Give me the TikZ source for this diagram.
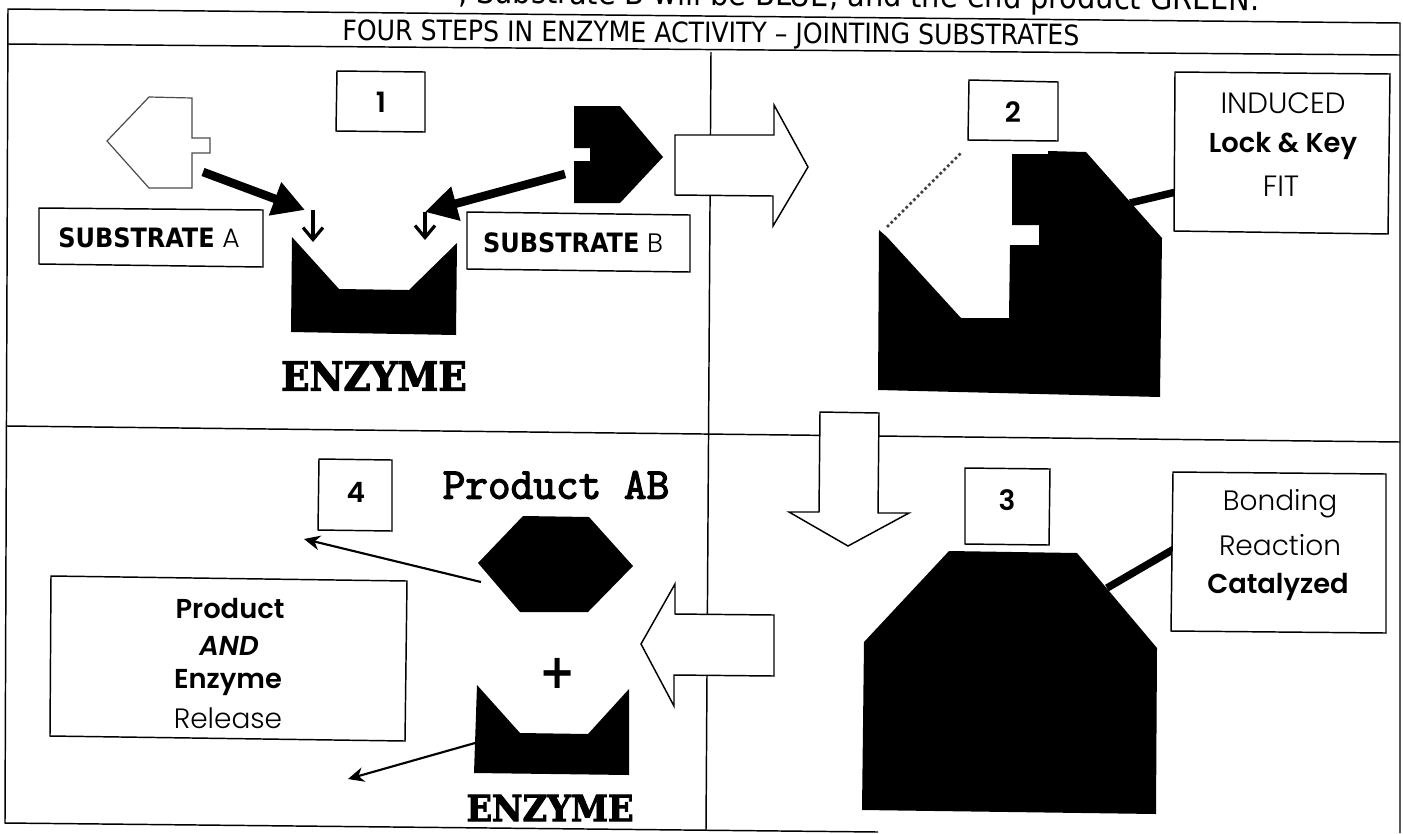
\documentclass[tikz,border=0pt]{standalone}
\usepackage{fontspec}
\usetikzlibrary{arrows.meta}
\setmainfont{DejaVu Sans Condensed}
\newfontfamily\goth{Poppins Light}
\newfontfamily\gothb{Poppins SemiBold}
\newfontfamily\gothbi{Poppins SemiBold Italic}
\newfontfamily\slab[FakeStretch=0.93,FakeBold=2.6]{DejaVu Serif Bold}
\newfontfamily\cour[FakeBold=3]{Latin Modern Mono}
\newcommand{\fs}[1]{\fontsize{#1}{#1}\selectfont}
\tikzset{
  x=0.75pt,y=-0.75pt,
  rule/.style={line width=1.1pt,black},
  boxline/.style={line width=1.1pt,black,fill=white},
  fat/.style={line width=6.4pt,black,-{Triangle[length=24pt,width=25pt]}},
  thinarrow/.style={line width=1.6pt,black,-{Stealth[length=12pt,width=11pt]}},
  small/.style={line width=2.4pt,black,-{Straight Barb[length=9pt,width=15pt,line width=2.4pt]}},
  leader/.style={line width=5.6pt,black},
  txt/.style={inner sep=0pt,outer sep=0pt,align=center,black},
  num/.style={txt,font=\gothb\fs{21}},
  sub/.style={txt,font=\fs{20}},
  lab/.style={txt,font=\goth\fs{21}},
  labb/.style={txt,font=\gothb\fs{20.5}},
  slabel/.style={txt,font=\slab\fs{30}},
}
\begin{document}
\begin{tikzpicture}
\useasboundingbox (0,0) rectangle (1403,833);
\fill[white] (0,0) rectangle (1403,833);
% clipped line of text at the top
\begin{scope}
\clip (0,0) rectangle (1403,833);
\node[txt,anchor=base west,rotate=-0.53,font=\fs{24}] (cut) at (458,3) {, Substrate B will be BLUE, and the end product GREEN.};
\end{scope}
% table rules
\coordinate (tl) at (8,9); \coordinate (tr) at (1400,23);
\coordinate (hl) at (8,44); \coordinate (hr) at (1400,55);
\coordinate (ml) at (7,426); \coordinate (mr) at (1400,442);
\coordinate (bl) at (5,823); \coordinate (bm) at (878,832); \coordinate (br) at (1400,833);
\coordinate (vt) at (711,52); \coordinate (vb) at (706,830);
\draw[rule] (bm) -- (bl) -- (tl) -- (tr) -- (br);
\draw[rule] (hl) -- (hr);
\draw[rule] (ml) -- (mr);
\draw[rule] (vt) -- (vb);
\node[txt,rotate=-0.4,font=\fs{21}] (title) at (711,35) {FOUR STEPS IN ENZYME ACTIVITY -- JOINTING SUBSTRATES};
% step arrows
\draw[boxline] (675,135) -- (774,135) -- (774,105) -- (808,167) -- (773,226) -- (773,196) -- (675,195) -- cycle;
\draw[boxline] (820,412) -- (879,413) -- (878,513) -- (909,513) -- (848,546) -- (789,512) -- (819,512) -- cycle;
\draw[boxline] (774,615) -- (774,676) -- (674,675) -- (674,706) -- (641,644) -- (675,584) -- (675,614) -- cycle;
% panel 1
\draw[line width=0.9pt,black!70,fill=white] (149,97) -- (192,98) -- (192,138) -- (210,138) -- (210,153) -- (192,153) -- (192,188) -- (149,188) -- (107,141) -- cycle;
\fill[black] (574,106) -- (620,106) -- (663,157) -- (620,203) -- (574,203) -- (574,161) -- (590,161) -- (590,148) -- (574,148) -- cycle;
\fill[black] (292,237) -- (339,289) -- (409,290) -- (457,243) -- (456,335) -- (291,332) -- cycle;
\draw[boxline] (337,71) -- (425,72) -- (425,132) -- (336,131) -- cycle;
\node[num] (n1) at (381,102) {1};
\draw[boxline] (39,208) -- (263,210) -- (263,267) -- (39,264) -- cycle;
\node[sub] (sa) at (149,238) {\textbf{SUBSTRATE} {\goth A}};
\draw[boxline] (467,212) -- (690,215) -- (690,272) -- (467,269) -- cycle;
\node[sub] (sb) at (573,243) {\textbf{SUBSTRATE} {\goth B}};
\coordinate (a1) at (203,172); \coordinate (a2) at (305,210);
\coordinate (c1) at (565,174); \coordinate (c2) at (425,212);
\draw[fat] (a1) -- (a2);
\draw[fat] (c1) -- (c2);
\coordinate (d1) at (313,210); \coordinate (d2) at (313,242);
\coordinate (e1) at (425,212); \coordinate (e2) at (425,240);
\draw[small] (d1) -- (d2);
\draw[small] (e1) -- (e2);
\node[slabel] (enz1) at (374,376) {ENZYME};
% panel 2
\fill[black] (879,230) -- (878,390) -- (1160,397) -- (1162,238) -- (1086,152) -- (1048,151) -- (1048,154) -- (1012,154) -- (1012,225) -- (1039,225) -- (1039,245) -- (1010,245) -- (1009,318) -- (961,318) -- (887,237) -- cycle;
\coordinate (s1) at (887,227); \coordinate (s2) at (961,153);
\draw[line width=2pt,black!75,dotted] (s1) -- (s2);
\draw[boxline] (969,80) -- (1058,82) -- (1058,141) -- (968,140) -- cycle;
\node[num] (n2) at (1013,112) {2};
\coordinate (k1) at (1130,203); \coordinate (k2) at (1176,192);
\draw[leader] (k1) -- (k2);
\draw[boxline] (1175,72) -- (1390,74) -- (1388,234) -- (1174,231) -- cycle;
\node[lab,font=\goth\fs{22}] (t21) at (1283,103) {INDUCED};
\node[labb] (t22) at (1283,146) {Lock \& Key};
\node[lab,font=\goth\fs{22}] (t23) at (1281,186) {FIT};
% panel 3
\fill[black] (949,551) -- (1077,553) -- (1157,648) -- (1156,814) -- (862,810) -- (864,642) -- cycle;
\draw[boxline] (965,468) -- (1050,469) -- (1049,545) -- (965,544) -- cycle;
\node[num] (n3) at (1007,500) {3};
\coordinate (m1) at (1107,588); \coordinate (m2) at (1174,549);
\draw[leader] (m1) -- (m2);
\draw[boxline] (1173,472) -- (1386,474) -- (1386,633) -- (1171,631) -- cycle;
\node[lab] (t31) at (1280,504) {Bonding};
\node[lab] (t32) at (1280,545) {Reaction};
\node[labb] (t33) at (1278,587) {Catalyzed};
% panel 4
\draw[boxline] (319,459) -- (392,460) -- (392,531) -- (318,530) -- cycle;
\node[num] (n4) at (356,492) {4};
\node[txt,font=\cour\fs{33}] (pab) at (556,485) {Product AB};
\fill[black] (523,516) -- (589,517) -- (633,566) -- (588,612) -- (520,612) -- (478,563) -- cycle;
\coordinate (p1) at (481,582); \coordinate (p2) at (304,539);
\draw[thinarrow] (p1) -- (p2);
\node[txt,font=\bfseries\fs{36}] (plus) at (558,673) {+};
\fill[black] (477,685) -- (520,733) -- (588,734) -- (629,689) -- (629,775) -- (474,773) -- cycle;
\coordinate (q1) at (475,743); \coordinate (q2) at (348,779);
\draw[thinarrow] (q1) -- (q2);
\node[slabel,font=\slab\fs{27}] (enz2) at (550,808) {ENZYME};
\draw[boxline] (51,576) -- (407,581) -- (405,741) -- (50,736) -- cycle;
\node[labb] (t41) at (230,608) {Product};
\node[labb,font=\gothbi\fs{20.5}] (t42) at (229,646) {AND};
\node[labb] (t43) at (228,683) {Enzyme};
\node[lab] (t44) at (228,718) {Release};
\end{tikzpicture}
\end{document}
